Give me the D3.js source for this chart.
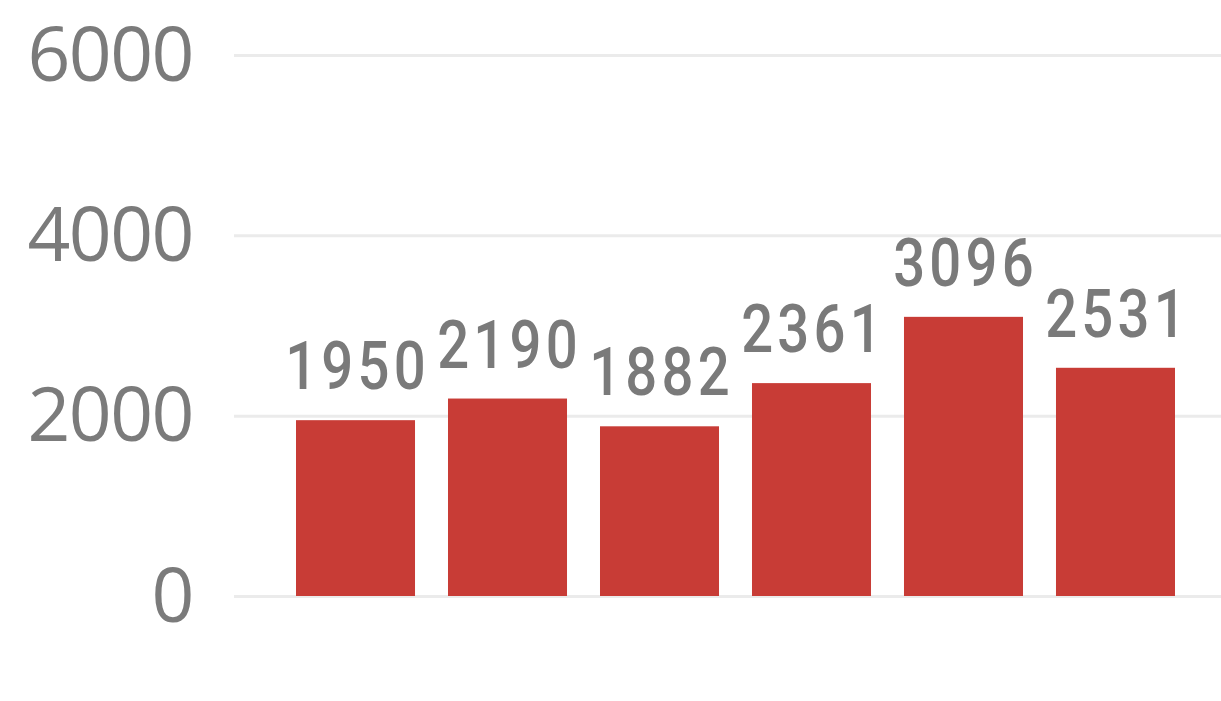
<!DOCTYPE html>
<html>
<head>
<meta charset="utf-8">
<script src="https://cdn.jsdelivr.net/npm/d3@7"></script>
<style>
  html, body { margin: 0; padding: 0; background: #fff; }
</style>
</head>
<body>
<div id="chart"></div>
<script>
const categories = ["c1", "c2", "c3", "c4", "c5", "c6"];
const values = [1950, 2190, 1882, 2361, 3096, 2531];
const yTicks = [0, 2000, 4000, 6000];

const width = 1221;
const height = 701;

const svg = d3.select("#chart")
  .append("svg")
  .attr("width", width)
  .attr("height", height);

const x = d3.scaleBand()
  .domain(categories)
  .range([296, 1175])
  .paddingInner(0.217)
  .paddingOuter(0);

const y = d3.scaleLinear()
  .domain([0, 6000])
  .range([596, 55]);

// gridlines + tick labels
svg.append("g")
  .attr("transform", "translate(234,0)")
  .call(d3.axisLeft(y).tickValues(yTicks).tickFormat(d3.format("d")).tickSize(-(width - 234)).tickPadding(41))
  .call(g => g.select(".domain").remove())
  .call(g => g.selectAll("line").attr("stroke", "#ebebeb").attr("stroke-width", 3))
  .call(g => g.selectAll("text")
    .attr("fill", "#7b7b7b")
    .attr("dy", "25px")
    .style("font-family", "'Open Sans', sans-serif")
    .style("font-size", "75px")
    .style("letter-spacing", "-1.5px"));

// bars
svg.append("g")
  .selectAll("rect")
  .data(values)
  .join("rect")
  .attr("x", (d, i) => x(categories[i]))
  .attr("y", d => y(d))
  .attr("width", x.bandwidth())
  .attr("height", d => y(0) - y(d))
  .attr("fill", "#c83c36");

// value labels
svg.append("g")
  .selectAll("text")
  .data(values)
  .join("text")
  .attr("transform", (d, i) => `translate(${x(categories[i]) + x.bandwidth() / 2 + 2},${y(d) - 31}) scale(0.84,1)`)
  .attr("text-anchor", "middle")
  .attr("fill", "#7a7a7a")
  .style("font-family", "Roboto, sans-serif")
  .style("font-weight", "500")
  .style("font-size", "67px")
  .style("letter-spacing", "5px")
  .text(d => d);
</script>
</body>
</html>
